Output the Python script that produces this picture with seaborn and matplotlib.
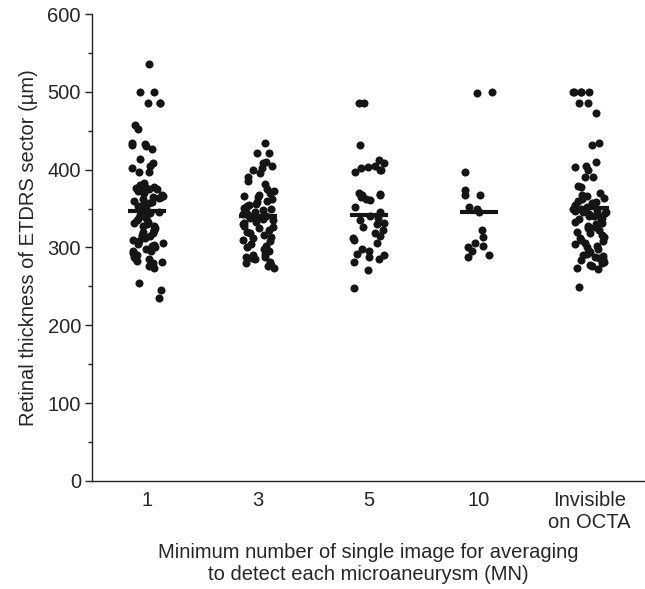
import numpy as np
import pandas as pd
import matplotlib
matplotlib.use("Agg")
import matplotlib.pyplot as plt
import seaborn as sns
from matplotlib.ticker import MultipleLocator

# group labels on the x axis
groups = ["1", "3", "5", "10", "Invisible\non OCTA"]

# retinal thickness (um), one list per group
mn1 = [536, 500, 500, 486, 486, 486, 457, 452, 434, 433, 432, 430, 427, 414, 408,
       405, 402, 397, 397, 383, 380, 378, 378, 377, 375, 375, 373, 372, 370, 368,
       366, 365, 365, 363, 362, 360, 358, 357, 355, 353, 352, 350, 349, 348, 347,
       345, 344, 342, 340, 338, 336, 335, 333, 332, 330, 328, 327, 325, 323, 322,
       320, 318, 316, 315, 313, 312, 310, 308, 306, 305, 303, 302, 300, 298, 296,
       295, 293, 291, 290, 288, 286, 285, 283, 282, 280, 276, 274, 254, 245, 235]
mn3 = [434, 422, 422, 410, 408, 405, 402, 400, 396, 390, 385, 382, 375, 372, 370,
       368, 366, 365, 362, 360, 358, 356, 355, 353, 351, 350, 348, 346, 345, 343,
       342, 341, 340, 339, 338, 336, 335, 333, 332, 330, 328, 326, 325, 323, 320,
       318, 316, 314, 312, 310, 308, 305, 302, 300, 298, 295, 292, 290, 288, 288,
       287, 285, 282, 280, 278, 276, 274]
mn5 = [486, 486, 432, 413, 408, 405, 403, 402, 400, 399, 397, 370, 369, 368, 367,
       365, 362, 361, 352, 345, 341, 338, 335, 332, 330, 326, 322, 318, 315, 312,
       310, 306, 298, 296, 292, 290, 288, 285, 282, 271, 248]
mn10 = [500, 499, 397, 374, 368, 368, 352, 350, 345, 323, 314, 306, 302, 300, 295,
        290, 288]
invisible = [500, 500, 500, 500, 500, 486, 486, 473, 434, 432, 410, 405, 404, 400,
             391, 391, 379, 378, 370, 368, 366, 364, 362, 360, 358, 357, 355, 354,
             352, 350, 349, 348, 347, 346, 345, 344, 343, 342, 341, 340, 338, 336,
             335, 333, 332, 330, 328, 326, 325, 323, 320, 318, 316, 314, 312, 310,
             308, 306, 304, 302, 300, 298, 296, 294, 292, 290, 289, 288, 286, 285,
             284, 282, 280, 278, 276, 274, 272, 249]

# horizontal bar value for each group
centre_values = [347, 340, 342, 346, 351]

df = pd.DataFrame({
    "group": ([groups[0]] * len(mn1) + [groups[1]] * len(mn3) + [groups[2]] * len(mn5)
              + [groups[3]] * len(mn10) + [groups[4]] * len(invisible)),
    "thickness": mn1 + mn3 + mn5 + mn10 + invisible,
})
centres = pd.DataFrame({"group": groups, "thickness": centre_values})

sns.set_theme(style="ticks")
plt.rcParams["font.family"] = ["Liberation Sans", "DejaVu Sans"]

fig = plt.figure(figsize=(6.45, 5.89), dpi=100)
ax = fig.add_axes([92 / 645, 108 / 589, 553 / 645, 467 / 589])

np.random.seed(3)
sns.stripplot(data=df, x="group", y="thickness", order=groups, jitter=0.15,
              size=5.8, color="#151515", linewidth=0, ax=ax)
sns.pointplot(data=centres, x="group", y="thickness", order=groups,
              linestyle="none", markers="_", markersize=27, markeredgewidth=3,
              color="#151515", errorbar=None, ax=ax)

ax.set_xlim(-0.5, 4.5)
ax.set_ylim(0, 600)
ax.yaxis.set_major_locator(MultipleLocator(100))
ax.yaxis.set_minor_locator(MultipleLocator(50))
ax.tick_params(axis="y", which="major", length=5, width=1, labelsize=14.5, color="#222", pad=3)
ax.tick_params(axis="y", which="minor", length=3, width=1, color="#222")
ax.tick_params(axis="x", length=0, labelsize=14.5, pad=7.5)
for lab in ax.get_xticklabels():
    lab.set_linespacing(1.15)

ax.set_xlabel("Minimum number of single image for averaging\nto detect each microaneurysm (MN)",
              fontsize=14.5, labelpad=8, linespacing=1.22)
ax.set_ylabel("Retinal thickness of ETDRS sector (\u00b5m)", fontsize=14.5, labelpad=7)

for side in ["top", "right"]:
    ax.spines[side].set_visible(False)
for side in ["left", "bottom"]:
    ax.spines[side].set_color("#222")
    ax.spines[side].set_linewidth(1)

fig.savefig("out.png", dpi=100)
